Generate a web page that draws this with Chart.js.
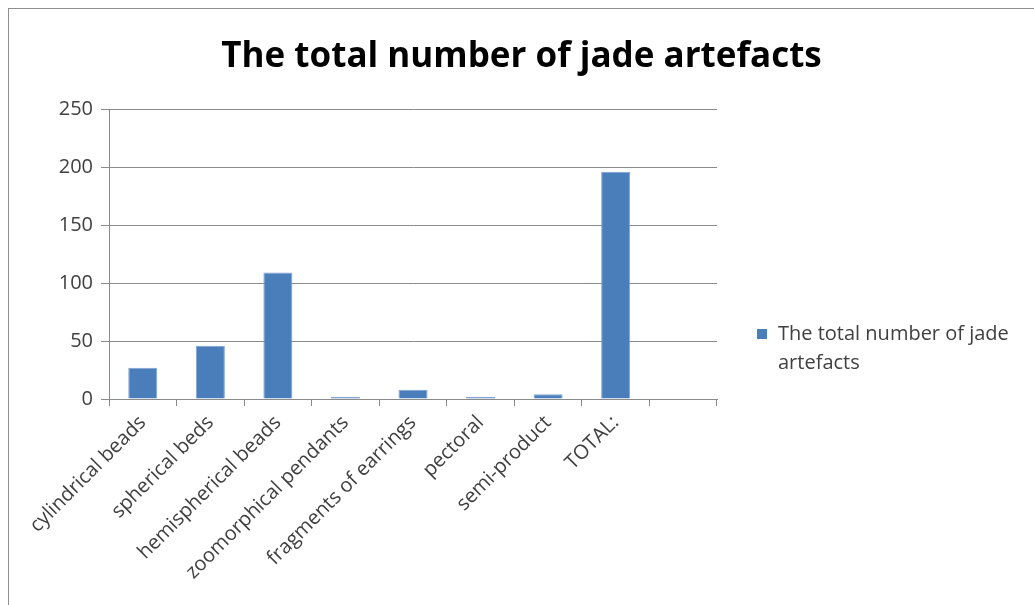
<!DOCTYPE html>
<html>
<head>
<meta charset="utf-8">
<script src="https://cdn.jsdelivr.net/npm/chart.js@4.4.0/dist/chart.umd.min.js"></script>
<style>
body { margin: 0; background: #fff; }
#wrap { position: absolute; left: 8px; top: 8px; width: 1026px; height: 597px; border-left: 1px solid #8e8e8e; border-top: 1px solid #8e8e8e; }
canvas { display: block; }
</style>
</head>
<body>
<div id="wrap"><canvas id="myChart" width="1025" height="596"></canvas></div>
<script>
const chartTitle = 'The total number of jade artefacts';
const seriesLabel = 'The total number of jade artefacts';
const categories = ['cylindrical beads', 'spherical beds', 'hemispherical beads', 'zoomorphical pendants',
    'fragments of earrings', 'pectoral', 'semi-product', 'TOTAL:', ''];
const artefacts = [27, 46, 109, 2, 8, 2, 4, 196, null];
const yTicks = [0, 50, 100, 150, 200, 250];

const barColor = '#4a7ebb';
const textColor = '#404040';
const gridColor = '#8a8a8a';

// legend on the right, wrapped over two lines like the original
const sideLegend = {
    id: 'sideLegend',
    afterDraw(chart) {
        const ctx = chart.ctx;
        const area = chart.chartArea;
        ctx.save();
        ctx.font = '20px "Open Sans"';
        let words = seriesLabel.split(' ');
        let lines = [];
        let line = '';
        words.forEach((w) => {
            let test = line ? line + ' ' + w : w;
            if (ctx.measureText(test).width > 260 && line) {
                lines.push(line);
                line = w;
            } else {
                line = test;
            }
        });
        lines.push(line);
        let x = area.right + 40;
        let y = 325;
        ctx.fillStyle = barColor;
        ctx.fillRect(x, y - 5, 10, 10);
        ctx.fillStyle = textColor;
        ctx.textBaseline = 'middle';
        lines.forEach((t, i) => ctx.fillText(t, x + 21, y + i * 29));
        ctx.restore();
    }
};

const ctx = document.getElementById('myChart');

new Chart(ctx, {
    type: 'bar',
    data: {
        labels: categories,
        datasets: [{
            label: seriesLabel,
            data: artefacts,
            backgroundColor: barColor,
            borderColor: '#7fa3d3',
            borderWidth: 1,
            barPercentage: 0.43,
            categoryPercentage: 1
        }]
    },
    options: {
        responsive: false,
        animation: false,
        layout: { padding: 0 },
        plugins: {
            legend: { display: false },
            tooltip: { enabled: false },
            title: {
                display: true,
                text: chartTitle,
                color: '#000',
                font: { family: 'Open Sans', size: 35, weight: 'bold' },
                padding: { top: 27, bottom: 31 }
            }
        },
        scales: {
            x: {
                grid: { display: true, drawOnChartArea: false, drawTicks: true, tickLength: 7, offset: true, color: gridColor },
                border: { color: gridColor },
                ticks: {
                    color: textColor,
                    font: { family: 'Open Sans', size: 20 },
                    maxRotation: 45,
                    minRotation: 45,
                    autoSkip: false,
                    padding: 5
                },
                afterFit: (scale) => { scale.height = 206; }
            },
            y: {
                min: 0,
                max: 250,
                afterBuildTicks: (scale) => { scale.ticks = yTicks.map((v) => ({ value: v })); },
                grid: { color: gridColor, tickLength: 8 },
                border: { color: gridColor },
                ticks: {
                    color: textColor,
                    font: { family: 'Open Sans', size: 20 },
                    padding: 8
                },
                afterFit: (scale) => { scale.width = 100; }
            },
            // empty space on the right where the legend sits
            side: {
                type: 'linear',
                position: 'right',
                grid: { display: false },
                border: { display: false },
                ticks: { display: false },
                afterFit: (scale) => { scale.width = 317; }
            }
        }
    },
    plugins: [sideLegend]
});
</script>
</body>
</html>
